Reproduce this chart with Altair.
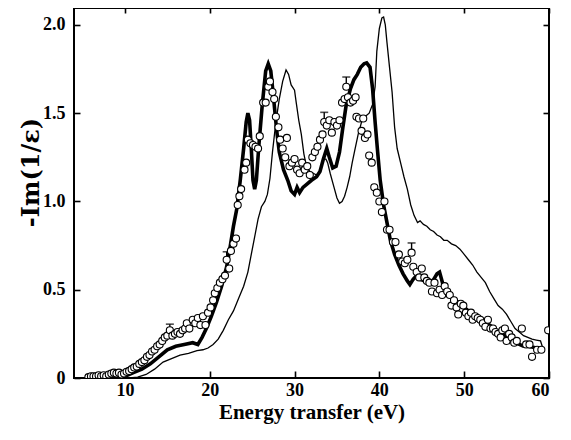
import altair as alt
import pandas as pd

# ---- data ----
thick_E = [9.5, 10.0, 11.0, 12.0, 13.0, 14.0, 15.0, 16.0, 17.0, 18.0, 18.6, 19.1, 19.6, 20.2, 20.8,
           21.4, 22.0, 22.4, 22.8, 23.2, 23.6, 24.0, 24.3, 24.5, 24.7, 24.9, 25.1, 25.3, 25.5, 25.8,
           26.2, 26.6, 26.9, 27.2, 27.5, 27.9, 28.2, 28.7, 29.2, 29.6, 30.0, 30.3, 30.6, 31.0, 31.5,
           32.0, 32.6, 33.0, 33.4, 33.8, 34.1, 34.5, 34.9, 35.3, 35.7, 36.1, 36.6, 37.0, 37.4, 37.8,
           38.2, 38.5, 38.9, 39.2, 39.5, 39.8, 40.1, 40.5, 40.9, 41.3, 41.8, 42.3, 42.8, 43.3, 43.6,
           44.0, 44.4, 44.8, 45.3, 45.8, 46.3, 46.8, 47.1, 47.5, 48.0, 48.5, 49.0, 49.5, 50.0, 50.5,
           51.0, 51.5, 52.0, 52.5, 53.0, 53.5, 54.0, 54.5, 55.0, 55.5, 56.0, 56.5, 57.0, 57.5, 58.0,
           58.5, 58.8]
thick_v = [0.0, 0.01, 0.03, 0.05, 0.08, 0.12, 0.16, 0.18, 0.19, 0.20, 0.19, 0.23, 0.28, 0.35, 0.43,
           0.52, 0.63, 0.74, 0.86, 0.96, 1.12, 1.30, 1.45, 1.50, 1.46, 1.30, 1.12, 1.07, 1.12, 1.32,
           1.55, 1.74, 1.78, 1.74, 1.60, 1.40, 1.28, 1.18, 1.12, 1.06, 1.04, 1.08, 1.05, 1.08, 1.10,
           1.12, 1.14, 1.17, 1.24, 1.30, 1.25, 1.19, 1.20, 1.28, 1.42, 1.55, 1.64, 1.69, 1.72, 1.76,
           1.78, 1.785, 1.76, 1.64, 1.45, 1.28, 1.12, 0.98, 0.88, 0.78, 0.70, 0.64, 0.59, 0.55, 0.53,
           0.56, 0.58, 0.56, 0.55, 0.54, 0.55, 0.59, 0.60, 0.53, 0.49, 0.46, 0.44, 0.42, 0.40, 0.38,
           0.36, 0.35, 0.33, 0.31, 0.30, 0.28, 0.26, 0.25, 0.23, 0.21, 0.20, 0.19, 0.18, 0.18, 0.175,
           0.17, 0.17]

thin_E = [10.5, 11.5, 12.5, 13.5, 14.5, 15.5, 16.5, 17.5, 18.5, 19.2, 19.8, 20.4, 21.0, 21.6, 22.2,
          22.8, 23.4, 24.0, 24.5, 24.9, 25.3, 25.7, 26.1, 26.5, 26.8, 27.1, 27.4, 27.8, 28.2, 28.6,
          29.0, 29.3, 29.6, 30.0, 30.2, 30.5, 30.8, 31.1, 31.4, 31.8, 32.2, 32.6, 33.0, 33.4, 33.7,
          33.9, 34.2, 34.6, 35.0, 35.3, 35.6, 35.9, 36.2, 36.5, 36.8, 37.1, 37.5, 37.9, 38.3, 38.8,
          39.2, 39.5, 39.7, 40.0, 40.3, 40.5, 40.7, 40.9, 41.2, 41.5, 41.8, 42.1, 42.5, 42.9, 43.3,
          43.7, 44.1, 44.5, 44.8, 45.2, 45.6, 46.0, 46.4, 46.8, 47.2, 47.6, 48.0, 48.5, 49.0, 49.5,
          50.0, 50.5, 51.0, 51.5, 52.0, 52.5, 53.0, 53.5, 54.0, 54.5, 55.0, 55.5, 56.0, 56.5, 57.0,
          57.5, 58.0, 58.5, 59.0, 59.2]
thin_v = [0.0, 0.005, 0.02, 0.05, 0.09, 0.11, 0.13, 0.14, 0.155, 0.16, 0.17, 0.19, 0.22, 0.27, 0.33,
          0.38, 0.45, 0.52, 0.60, 0.70, 0.80, 0.90, 0.97, 1.00, 1.04, 1.13, 1.28, 1.45, 1.58, 1.68,
          1.745, 1.72, 1.66, 1.63, 1.56, 1.46, 1.38, 1.27, 1.20, 1.17, 1.16, 1.15, 1.17, 1.24, 1.24,
          1.22, 1.16, 1.09, 1.02, 0.99, 1.00, 1.03, 1.08, 1.14, 1.22, 1.29, 1.38, 1.45, 1.48, 1.50,
          1.55, 1.65, 1.85, 1.98, 2.04, 2.045, 2.00, 1.90, 1.76, 1.62, 1.42, 1.30, 1.22, 1.14, 1.07,
          0.98, 0.92, 0.88, 0.89, 0.87, 0.86, 0.84, 0.83, 0.81, 0.80, 0.78, 0.78, 0.76, 0.75, 0.73,
          0.70, 0.67, 0.64, 0.60, 0.57, 0.54, 0.49, 0.45, 0.41, 0.39, 0.36, 0.32, 0.28, 0.26, 0.24,
          0.23, 0.22, 0.215, 0.21, 0.18]

exp_E = [5.7, 6.0, 6.3, 6.6, 6.9, 7.2, 7.5, 7.8, 8.1, 8.4, 8.7, 9.0, 9.3, 9.6, 9.9, 10.2, 10.5, 10.8,
         11.1, 11.4, 11.7, 12.0, 12.3, 12.6, 12.9, 13.2, 13.5, 13.8, 14.1, 14.4, 14.7, 15.0, 15.3,
         15.6, 15.9, 16.2, 16.5, 16.8, 17.1, 17.3, 17.6, 18.0, 18.3, 18.6, 18.9, 19.2, 19.5, 19.8,
         20.1, 20.4, 20.6, 20.9, 21.2, 21.5, 21.8, 22.0, 22.3, 22.5, 22.8, 23.1, 23.3, 23.5, 23.7,
         24.1, 24.3, 24.5, 24.8, 25.1, 25.4, 25.7, 25.9, 26.3, 26.6, 26.9, 27.1, 27.4, 27.6, 27.8,
         28.1, 28.3, 28.6, 28.9, 29.1, 29.4, 29.7, 30.0, 30.3, 30.6, 30.9, 31.2, 31.5, 31.8, 32.1,
         32.4, 32.7, 33.0, 33.3, 33.5, 33.8, 34.1, 34.4, 34.7, 35.0, 35.3, 35.6, 35.9, 36.1, 36.3,
         36.6, 36.9, 37.2, 37.3, 37.6, 37.9, 38.1, 38.3, 38.6, 38.8, 39.1, 39.4, 39.7, 40.0, 40.3,
         40.6, 40.9, 41.2, 41.6, 41.9, 42.3, 42.7, 43.0, 43.3, 43.8, 44.0, 44.4, 44.7, 45.0, 45.3,
         45.6, 45.9, 46.2, 46.5, 46.8, 47.1, 47.4, 47.7, 48.0, 48.3, 48.5, 48.8, 49.1, 49.3, 49.6,
         49.9, 50.2, 50.5, 50.8, 51.0, 51.3, 51.6, 51.9, 52.2, 52.5, 52.8, 53.1, 53.4, 53.7, 54.0,
         54.3, 54.5, 54.8, 55.0, 55.3, 55.6, 55.9, 56.2, 56.8, 57.3, 57.7, 58.0, 58.6, 59.1, 59.9]
exp_v = [0.005, 0.01, 0.01, 0.01, 0.015, 0.01, 0.015, 0.01, 0.02, 0.025, 0.03, 0.025, 0.03, 0.02,
         0.025, 0.035, 0.04, 0.05, 0.06, 0.065, 0.08, 0.09, 0.10, 0.12, 0.13, 0.15, 0.16, 0.18, 0.19,
         0.21, 0.23, 0.24, 0.27, 0.24, 0.25, 0.26, 0.25, 0.27, 0.28, 0.31, 0.28, 0.33, 0.31, 0.34,
         0.30, 0.35, 0.30, 0.37, 0.40, 0.44, 0.48, 0.51, 0.54, 0.56, 0.58, 0.67, 0.62, 0.72, 0.76,
         0.79, 0.98, 1.03, 1.07, 1.18, 1.22, 1.35, 1.33, 1.32, 1.31, 1.30, 1.37, 1.56, 1.56, 1.65,
         1.68, 1.62, 1.58, 1.48, 1.42, 1.35, 1.30, 1.25, 1.36, 1.20, 1.22, 1.24, 1.18, 1.16, 1.22,
         1.18, 1.20, 1.15, 1.25, 1.28, 1.31, 1.35, 1.38, 1.45, 1.43, 1.46, 1.39, 1.45, 1.43, 1.46,
         1.56, 1.58, 1.65, 1.59, 1.56, 1.57, 1.59, 1.48, 1.47, 1.40, 1.47, 1.36, 1.38, 1.26, 1.22,
         1.08, 1.05, 1.00, 0.94, 1.00, 0.84, 0.84, 0.77, 0.77, 0.70, 0.66, 0.65, 0.67, 0.71, 0.63,
         0.60, 0.57, 0.62, 0.57, 0.55, 0.54, 0.49, 0.54, 0.48, 0.50, 0.47, 0.52, 0.49, 0.47, 0.41,
         0.44, 0.40, 0.36, 0.42, 0.41, 0.37, 0.35, 0.37, 0.33, 0.35, 0.34, 0.33, 0.31, 0.29, 0.33,
         0.28, 0.28, 0.26, 0.25, 0.23, 0.27, 0.28, 0.21, 0.25, 0.23, 0.20, 0.21, 0.28, 0.19, 0.19,
         0.12, 0.16, 0.16, 0.27]

err_E = [15.3, 22.0, 33.5, 36.1, 43.8]
err_v = [0.27, 0.67, 1.45, 1.65, 0.71]
err_hi = [0.305, 0.715, 1.505, 1.705, 0.765]

x_ticks = [10, 20, 30, 40, 50, 60]
y_ticks = [0, 0.5, 1.0, 1.5, 2.0]

# ---- tables ----
df_thick = pd.DataFrame({"E": thick_E, "v": thick_v})
df_thin = pd.DataFrame({"E": thin_E, "v": thin_v})
df_exp = pd.DataFrame({"E": exp_E, "v": exp_v})
df_err = pd.DataFrame({"E": err_E, "v": err_v, "hi": err_hi})

xs = alt.Scale(domain=[4, 60], nice=False, zero=False)
ys = alt.Scale(domain=[0, 2.096], nice=False, zero=False)

LF = "Liberation Serif"
common = dict(domain=False, grid=False, tickColor="black", tickWidth=1.6,
              labelColor="black", titleColor="black",
              labelFont=LF, labelFontWeight="bold", labelFontSize=18)

x_bottom = alt.Axis(orient="bottom", values=x_ticks, format="d", offset=-7, tickSize=7,
                    labelPadding=3, title="Energy transfer (eV)", titleFont=LF,
                    titleFontWeight="bold", titleFontSize=21, titleY=30, **common)
y_left = alt.Axis(orient="left", values=y_ticks, offset=-6, tickSize=6, labelPadding=9,
                  labelExpr="datum.value == 0 ? '0' : format(datum.value, '.1f')",
                  title="-Im(1/ε)", titleFont="DejaVu Serif", titleFontWeight="bold",
                  titleFontSize=24, titleX=-37, titleY=164, **common)
x_top = alt.Axis(orient="top", values=x_ticks, offset=-5, tickSize=5, labels=False,
                 title=None, **common)
y_right = alt.Axis(orient="right", values=y_ticks, offset=-6, tickSize=6, labels=False,
                   title=None, **common)

thin = alt.Chart(df_thin).mark_line(color="black", strokeWidth=1.3, clip=True).encode(
    x=alt.X("E:Q", scale=xs, axis=x_top),
    y=alt.Y("v:Q", scale=ys, axis=y_right),
)
thick = alt.Chart(df_thick).mark_line(color="black", strokeWidth=3.6, clip=True).encode(
    x=alt.X("E:Q", scale=xs, axis=x_bottom),
    y=alt.Y("v:Q", scale=ys, axis=y_left),
)
err_rule = alt.Chart(df_err).mark_rule(color="black", strokeWidth=1.4).encode(
    x=alt.X("E:Q", scale=xs, axis=None),
    y=alt.Y("v:Q", scale=ys, axis=None),
    y2="hi:Q",
)
err_cap = alt.Chart(df_err).mark_tick(color="black", orient="horizontal", size=8,
                                      thickness=1.6).encode(
    x=alt.X("E:Q", scale=xs, axis=None),
    y=alt.Y("hi:Q", scale=ys, axis=None),
)
circles = alt.Chart(df_exp).mark_point(shape="circle", filled=True, fill="white",
                                       stroke="black", strokeWidth=1.1, size=50,
                                       opacity=1, clip=True).encode(
    x=alt.X("E:Q", scale=xs, axis=None),
    y=alt.Y("v:Q", scale=ys, axis=None),
)

chart = alt.layer(thick, thin, err_rule, err_cap, circles).resolve_axis(
    x="independent", y="independent"
).properties(
    width=475, height=370,
    autosize=alt.AutoSizeParams(type="none"),
    padding={"left": 66, "top": 0, "right": 14, "bottom": 54},
    background="white",
).configure_view(stroke="black", strokeWidth=2)

chart.save("out.html", embed_options={"renderer": "svg", "actions": False})
